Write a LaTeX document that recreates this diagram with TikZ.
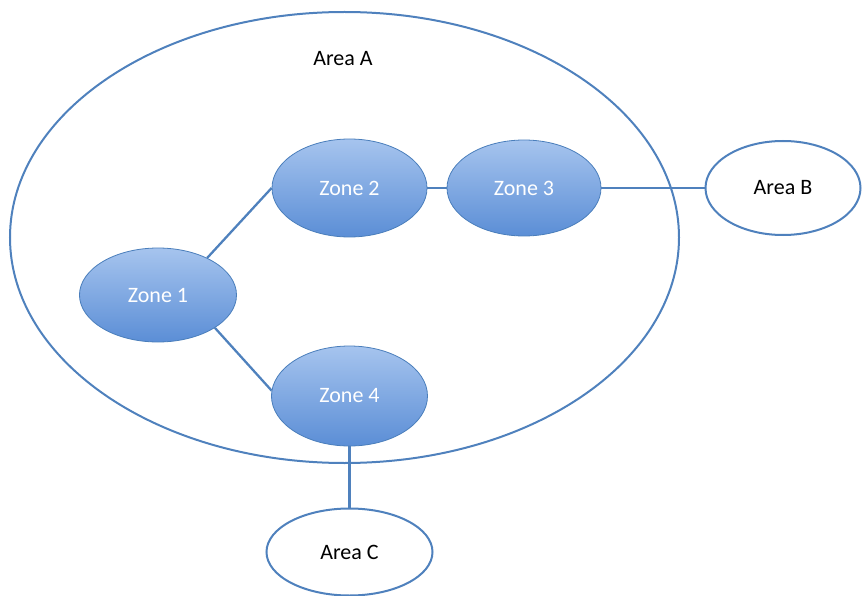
\documentclass[tikz,border=0pt]{standalone}
\usepackage{fontspec}
\setmainfont{Carlito}
\usetikzlibrary{shapes.geometric}
\definecolor{lineblue}{HTML}{4F81BD}
\definecolor{zonetop}{HTML}{A6C4EE}
\definecolor{zonebot}{HTML}{5B8ED6}
\definecolor{zoneedge}{HTML}{4A7EBB}
\tikzset{
  areabox/.style={ellipse, draw=lineblue, line width=2pt, fill=white, inner sep=0pt, font=\fontsize{22}{24}\selectfont, text=black},
  zonebox/.style={ellipse, draw=zoneedge, line width=0.8pt, top color=zonetop, bottom color=zonebot, inner sep=0pt, minimum width=155pt, minimum height=97pt, font=\fontsize{22}{24}\selectfont, text=white},
  conn/.style={draw=lineblue, line width=2.3pt},
  lbl/.style={font=\fontsize{22}{24}\selectfont, text=black, inner sep=0pt}
}
\begin{document}
\begin{tikzpicture}[x=1pt,y=-1pt]
\useasboundingbox (0,0) rectangle (862,596);
\node[areabox, minimum width=669pt, minimum height=451pt, fill=none] (A) at (344.5,237.5) {};
\node[lbl] (lblA) at (343,59) {Area A};
\node[areabox, minimum width=155pt, minimum height=94pt] (B) at (783,188) {Area B};
\node[areabox, minimum width=166pt, minimum height=87pt] (C) at (349.5,552) {Area C};
\node[zonebox, minimum width=157pt, minimum height=94pt] (z1) at (158,295) {Zone 1};
\node[zonebox, minimum height=98pt] (z2) at (349.5,188) {Zone 2};
\node[zonebox, minimum width=154pt, minimum height=96pt] (z3) at (524,188) {Zone 3};
\node[zonebox, minimum width=156pt, minimum height=100pt] (z4) at (349.5,396) {Zone 4};
\draw[conn] (z1.37) -- (z2.west);
\draw[conn] (z1.-30) -- (z4.176);
\draw[conn] (z2.east) -- (z3.west);
\draw[conn] (z3.east) -- (B.west);
\draw[conn] (z4.south) -- (C.north);
\end{tikzpicture}
\end{document}
